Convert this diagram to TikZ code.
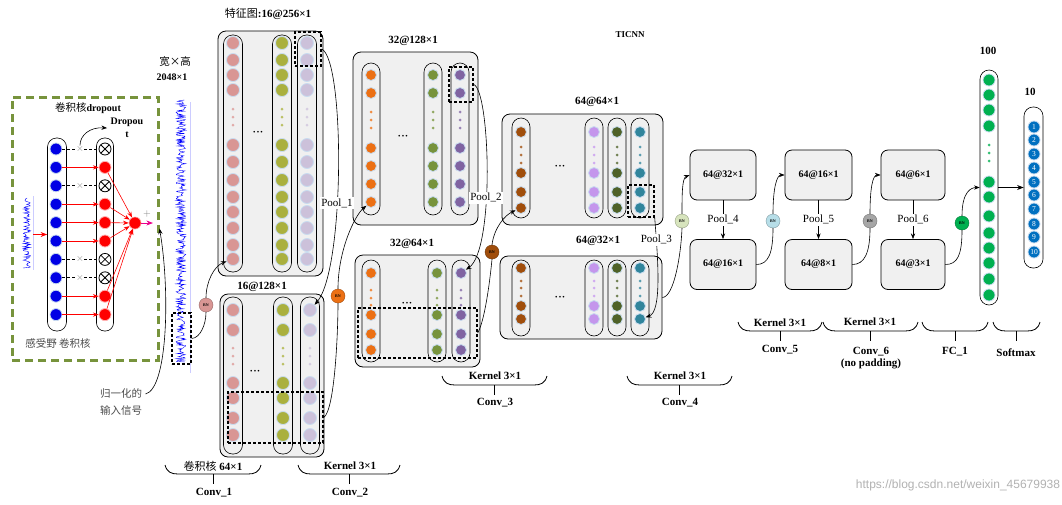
\documentclass[tikz,border=0pt]{standalone}
\usepackage{fontspec}
\setmainfont{Liberation Serif}
\newfontfamily\cjk{Noto Sans CJK SC}
\newfontfamily\wmfont{Liberation Sans}
\usetikzlibrary{arrows.meta, positioning, shapes.geometric}

\definecolor{olivebox}{RGB}{119,147,60}
\definecolor{pinkc}{RGB}{217,150,148}
\definecolor{olivec}{RGB}{170,176,62}
\definecolor{lavc}{RGB}{204,193,218}
\definecolor{orangec}{RGB}{236,112,20}
\definecolor{greenc}{RGB}{119,147,60}
\definecolor{purplec}{RGB}{128,100,162}
\definecolor{brownc}{RGB}{160,78,12}
\definecolor{lilacc}{RGB}{196,150,236}
\definecolor{dolivec}{RGB}{79,98,40}
\definecolor{tealc}{RGB}{49,133,156}
\definecolor{fcgreen}{RGB}{0,176,80}
\definecolor{smblue}{RGB}{0,112,192}
\definecolor{bnpale}{RGB}{215,228,189}
\definecolor{bnblue}{RGB}{183,222,232}
\definecolor{bngray}{RGB}{166,166,166}
\definecolor{halo}{RGB}{200,220,240}

\begin{document}
\begin{tikzpicture}[x=1pt, y=-1pt, >=Stealth, semithick,
    font=\fontsize{10}{11}\selectfont,
    dot/.style={circle, fill=#1, draw=halo, line width=0.8pt, inner sep=0pt, minimum size=11pt},
    sdot/.style={circle, fill=#1!80, inner sep=0pt, minimum size=3pt},
    capsule/.style={draw, rounded corners=9pt, minimum width=19pt, inner sep=0pt},
    fmap/.style={draw, thick, fill=black!6, rounded corners=8pt, inner sep=0pt},
    pooldash/.style={draw, densely dashed, line width=1.4pt, inner sep=0pt},
    smallmap/.style={draw, thick, fill=black!6, rounded corners=7pt, minimum width=66pt, minimum height=50pt, font=\bfseries\fontsize{10}{11}\selectfont},
    bn/.style={circle, fill=#1, draw=#1!70!black, thin, inner sep=0pt, minimum size=14pt, font=\bfseries\fontsize{4}{4}\selectfont},
    xnode/.style={circle, draw, thick, inner sep=0pt, minimum size=12pt,
      path picture={\draw[thick] (path picture bounding box.north west) -- (path picture bounding box.south east)
        (path picture bounding box.north east) -- (path picture bounding box.south west);}},
    maplbl/.style={font=\bfseries\fontsize{11}{12}\selectfont},
    cjklbl/.style={font=\cjk\fontsize{10.5}{12}\selectfont},
    poollbl/.style={fill=white, inner sep=1.5pt, font=\fontsize{11}{12}\selectfont},
    dotsep/.style={font=\fontsize{7}{7}\selectfont}]

\fill[white] (0,0) rectangle (1062,504);
\useasboundingbox (0,0) rectangle (1062,504);

% dropout block
\node[draw=olivebox, line width=3pt, dash pattern=on 8pt off 5pt, minimum width=146pt, minimum height=263pt] (dbox) at (85,228.5) {};
\node (dtitle) at (88,108) {{\cjk\fontsize{10.5}{12}\selectfont 卷积核}\textbf{dropout}};
\node[font=\bfseries\fontsize{10}{13}\selectfont, align=center] (droplbl) at (127,128) {Dropou\\t};
\node[capsule, minimum height=193pt] (lcap) at (57,234.5) {};
\node[capsule, minimum width=17pt, minimum height=193pt, rounded corners=8pt] (rcap) at (105,234.5) {};
\node[circle, fill=red, draw=red!40, inner sep=0pt, minimum size=12pt] (out) at (135,223) {};
\foreach \k [count=\i] in {0,1,0,1,1,1,0,0,1,1} {
  \pgfmathsetmacro\yy{149+(\i-1)*18.4}
  \node[dot=blue!90!black, minimum size=12pt] (in\i) at (56,\yy) {};
  \ifnum\k=0
    \node[xnode] (dr\i) at (105,\yy) {};
    \node[text=gray, inner sep=0pt] (xm\i) at (80,\yy) {$\times$};
    \draw[densely dashed, thick] (in\i) -- (xm\i) -- (dr\i);
  \else
    \node[dot=red, draw=red!30, minimum size=12pt] (dr\i) at (105,\yy) {};
    \draw[red, ->] (in\i) -- (dr\i);
    \draw[red, ->] (dr\i) -- (out);
  \fi
}
\draw[->] (xm1.north) .. controls (80,135) and (90,127) .. (droplbl.west);
\node[text=gray] (plus) at (147,214) {$+$};
\coordinate (outend) at (153,223);
\draw[magenta, ->, thick] (out) -- (outend);
\node[minimum width=12pt, minimum height=70pt, inner sep=0pt] (insig) at (27,234.5) {};
\pgfmathsetseed{11}
\draw[blue, thin] plot[domain=198:268, samples=90, variable=\t] ({27+4*rand},\t);
\draw[blue!20] (33,196) -- (33,270);
\draw[red, ->, thick] (insig.east) -- (lcap.west);
\node[cjklbl, text=black!70] (rfield) at (58,343) {感受野\ 卷积核};

% input signal
\draw[blue, line width=0.4pt] plot[domain=100:362, samples=400, variable=\t] ({181+5*rand},\t);
\draw[blue!20] (190,102) -- (190,373);
\node[pooldash, minimum width=19pt, minimum height=51pt] (sigbox) at (181.5,338.5) {};
\node[cjklbl] (whlbl) at (175,62) {宽×高};
\node[maplbl, font=\bfseries\fontsize{10}{11}\selectfont] (szlbl) at (172,77) {2048×1};
\node[cjklbl, text=black!70] (norm1) at (121,394) {归一化的};
\node[cjklbl, text=black!70] (norm2) at (121,411) {输入信号};

% conv_1 map
\node[fmap, minimum width=105pt, minimum height=245pt] (mapA) at (270.5,153.5) {};
\node[maplbl] (mapAlbl) at (268,14) {{\cjk\mdseries 特征图}:16@256×1};
\foreach \x/\c [count=\k] in {233/pinkc, 282/olivec, 307/lavc} {
  \node[capsule, minimum height=237pt] (mAc\k) at (\x,153.5) {};
  \foreach \y [count=\i] in {43,60,75,90,145,162,180,197,212,228,245,259}
    \node[dot=\c, minimum size=13pt] (mA\k-\i) at (\x,\y) {};
  \foreach \y [count=\i] in {109,117,125}
    \node[sdot=\c] (mA\k s\i) at (\x,\y) {};
}
\node[dotsep] (mAdots) at (258,133) {•\,•\,•};
\node[pooldash, minimum width=26pt, minimum height=34pt] (pdA) at (308,49) {};

% pool_1 map
\node[fmap, minimum width=104pt, minimum height=163pt] (mapB) at (272,375.5) {};
\node[maplbl] (mapBlbl) at (262,287) {16@128×1};
\foreach \x/\c [count=\k] in {233/pinkc, 283/olivec, 310/lavc} {
  \node[capsule, minimum height=157pt] (mBc\k) at (\x,375.5) {};
  \foreach \y [count=\i] in {310,330,383,398,418,435}
    \node[dot=\c, minimum size=13pt] (mB\k-\i) at (\x,\y) {};
  \foreach \y [count=\i] in {348,356,364}
    \node[sdot=\c] (mB\k s\i) at (\x,\y) {};
}
\node[dotsep] (mBdots) at (255,372) {•\,•\,•};
\node[pooldash, minimum width=95pt, minimum height=51pt] (pdB) at (275.5,417.5) {};

% conv_2 map
\node[fmap, minimum width=125pt, minimum height=173pt] (mapC) at (415.5,138.5) {};
\node[maplbl] (mapClbl) at (413,41) {32@128×1};
\foreach \x/\c [count=\k] in {371/orangec, 433/greenc, 460/purplec} {
  \node[capsule, minimum width=18pt, minimum height=152pt] (mCc\k) at (\x,139) {};
  \foreach \y [count=\i] in {75,93,148,166,184,202}
    \node[dot=\c] (mC\k-\i) at (\x,\y) {};
  \foreach \y [count=\i] in {112,120,128}
    \node[sdot=\c] (mC\k s\i) at (\x,\y) {};
}
\node[dotsep] (mCdots) at (403,137) {•\,•\,•};
\node[pooldash, minimum width=24pt, minimum height=35pt] (pdC) at (461,84.5) {};

% pool_2 map
\node[fmap, minimum width=125pt, minimum height=112pt] (mapD) at (417.5,311) {};
\node[maplbl] (mapDlbl) at (412,244) {32@64×1};
\foreach \x/\c [count=\k] in {371/orangec, 437/greenc, 461/purplec} {
  \node[capsule, minimum width=18pt, minimum height=102pt] (mDc\k) at (\x,311) {};
  \foreach \y [count=\i] in {273,315,334,350}
    \node[dot=\c] (mD\k-\i) at (\x,\y) {};
  \foreach \y [count=\i] in {290,298,305}
    \node[sdot=\c] (mD\k s\i) at (\x,\y) {};
}
\node[dotsep] (mDdots) at (407,304) {•\,•\,•};
\node[pooldash, minimum width=119pt, minimum height=50pt] (pdD) at (417.5,333) {};

% conv_3 map
\node[fmap, minimum width=161pt, minimum height=111pt] (mapE) at (582.5,169.5) {};
\node[maplbl] (mapElbl) at (597,102) {64@64×1};
\foreach \x/\c [count=\k] in {521/brownc, 594/lilacc, 617/dolivec, 640/tealc} {
  \node[capsule, minimum width=18pt, minimum height=100pt] (mEc\k) at (\x,168) {};
  \foreach \y [count=\i] in {132,173,192,208}
    \node[dot=\c] (mE\k-\i) at (\x,\y) {};
  \foreach \y [count=\i] in {147,155,163}
    \node[sdot=\c] (mE\k s\i) at (\x,\y) {};
}
\node[dotsep] (mEdots) at (560,167) {•\,•\,•};
\node[pooldash, minimum width=26pt, minimum height=32pt] (pdE) at (641,201) {};

% pool_3 map
\node[fmap, minimum width=162pt, minimum height=83pt] (mapF) at (581,297.5) {};
\node[maplbl] (mapFlbl) at (598,241) {64@32×1};
\foreach \x/\c [count=\k] in {521/brownc, 594/lilacc, 617/dolivec, 640/tealc} {
  \node[capsule, minimum width=18pt, minimum height=76pt] (mFc\k) at (\x,298) {};
  \foreach \y [count=\i] in {268,306,319}
    \node[dot=\c] (mF\k-\i) at (\x,\y) {};
  \foreach \y [count=\i] in {281,288,296}
    \node[sdot=\c] (mF\k s\i) at (\x,\y) {};
}
\node[dotsep] (mFdots) at (560,298) {•\,•\,•};
\node[maplbl, font=\bfseries\fontsize{9}{10}\selectfont] (title) at (630,35) {TICNN};

% conv_4 .. conv_6
\node[smallmap] (boxA1) at (723,175) {64@32×1};
\node[smallmap] (boxA2) at (723,264.5) {64@16×1};
\node[smallmap, minimum width=67pt] (boxB1) at (818.5,175) {64@16×1};
\node[smallmap, minimum width=67pt] (boxB2) at (818.5,264.5) {64@8×1};
\node[smallmap, minimum width=64pt] (boxC1) at (913,175) {64@6×1};
\node[smallmap, minimum width=64pt] (boxC2) at (913,264.5) {64@3×1};
\foreach \b/\n in {A/4, B/5, C/6}
  \draw[->] (box\b1) -- node[poollbl] (pool\n) {Pool\_\n} (box\b2);

% fc + softmax
\node[capsule, minimum width=18pt, minimum height=235pt] (fccap) at (989,187.5) {};
\node[maplbl] (fclbl) at (988,51) {100};
\foreach \y [count=\i] in {80,95,110,126,182,197,216,233,248,263,279,295}
  \node[dot=fcgreen, minimum size=12pt] (fc\i) at (989,\y) {};
\foreach \y [count=\i] in {145,153,161}
  \node[sdot=fcgreen] (fcs\i) at (989,\y) {};
\node[capsule, minimum height=161pt] (smcap) at (1033.5,187.5) {};
\node[maplbl] (smlbl) at (1030,92) {10};
\foreach \y [count=\i] in {127,140,154,168,182,195,209,224,237,252}
  \node[dot=smblue, minimum size=12pt, text=white, font=\fontsize{7.5}{7.5}\selectfont] (sm\i) at (1034,\y) {\i};
\draw[->, thick] (fccap.east) -- (smcap.west);

% BN nodes
\node[bn=pinkc] (bn1) at (206,305) {BN};
\node[bn=orangec] (bn2) at (338,296) {BN};
\node[bn=brownc] (bn3) at (492,252) {BN};
\node[bn=bnpale] (bn4) at (682,221) {BN};
\node[bn=bnblue] (bn5) at (773,221) {BN};
\node[bn=bngray] (bn6) at (870,221) {BN};
\node[bn=fcgreen] (bn7) at (962,223) {BN};

% connectors
\draw[->] (norm1.east) .. controls (168,388) and (170,290) .. (dbox.east);
\draw (sigbox.east) .. controls (200,338) and (206,325) .. (bn1.south);
\draw[->] (bn1.north) .. controls (206,282) and (214,266) .. (mA1-12);
\draw[->] (pdA.east) .. controls (345,60) and (345,270) .. (mB3-1) node[poollbl, pos=0.6] (pool1) {Pool\_1};
\draw (pdB.east) .. controls (335,410) and (338,330) .. (bn2.south);
\draw[->] (bn2.north) .. controls (338,250) and (355,215) .. (mC1-6);
\draw[->] (pdC.east) .. controls (490,90) and (495,250) .. (mD3-1) node[poollbl, pos=0.6] (pool2) {Pool\_2};
\draw (pdD.east) .. controls (485,320) and (490,280) .. (bn3.south);
\draw[->] (bn3.north) .. controls (494,228) and (505,215) .. (mE1-4);
\draw[->] (pdE.south east) .. controls (658,260) and (662,312) .. (mF4-3) node[poollbl, pos=0.17] (pool3) {Pool\_3};
\draw (mapF.east) .. controls (674,297) and (681,255) .. (bn4.south);
\draw[->] (bn4.north) .. controls (682,195) and (682,178) .. (boxA1.west);
\foreach \s/\b/\t in {boxA2/bn5/boxB1, boxB2/bn6/boxC1, boxC2/bn7/fccap} {
  \draw (\s.east) .. controls +(12,0) and +(0,25) .. (\b.south);
  \draw[->] (\b.north) .. controls +(0,-25) and +(-8,0) .. (\t.west);
}

% braces
\foreach \xa/\xb/\yb in {165/261/465, 298/400/465, 442/547/376, 627/732/376, 738/822/322, 823/918/322, 922/988/322, 993/1040/322} {
  \draw[thick] (\xa,\yb) .. controls (\xa+2,\yb+7) and (\xa+6,\yb+9) .. (\xa+13,\yb+9) -- (\xb-13,\yb+9)
    .. controls (\xb-6,\yb+9) and (\xb-2,\yb+7) .. (\xb,\yb);
  \draw[thick] ({(\xa+\xb)/2},\yb+9) -- ++(0,10);
}
\node[maplbl] (k1) at (213,466) {{\cjk\mdseries 卷积核} 64×1};
\node[maplbl] (c1) at (214,493) {Conv\_1};
\node[maplbl] (k2) at (350,466) {Kernel 3×1};
\node[maplbl] (c2) at (350,493) {Conv\_2};
\node[maplbl] (k3) at (495,376) {Kernel 3×1};
\node[maplbl] (c3) at (495,403) {Conv\_3};
\node[maplbl] (k4) at (680,376) {Kernel 3×1};
\node[maplbl] (c4) at (680,403) {Conv\_4};
\node[maplbl] (k5) at (780,323) {Kernel 3×1};
\node[maplbl] (c5) at (780,350) {Conv\_5};
\node[maplbl] (k6) at (870,322) {Kernel 3×1};
\node[maplbl, align=center] (c6) at (871,358) {Conv\_6\\(no padding)};
\node[maplbl] (c7) at (955,352) {FC\_1};
\node[maplbl] (c8) at (1016,353) {Softmax};

\node[text=black!30, font=\wmfont\fontsize{12}{12}\selectfont] (wm) at (958,485) {https://blog.csdn.net/weixin\_45679938};
\end{tikzpicture}
\end{document}
